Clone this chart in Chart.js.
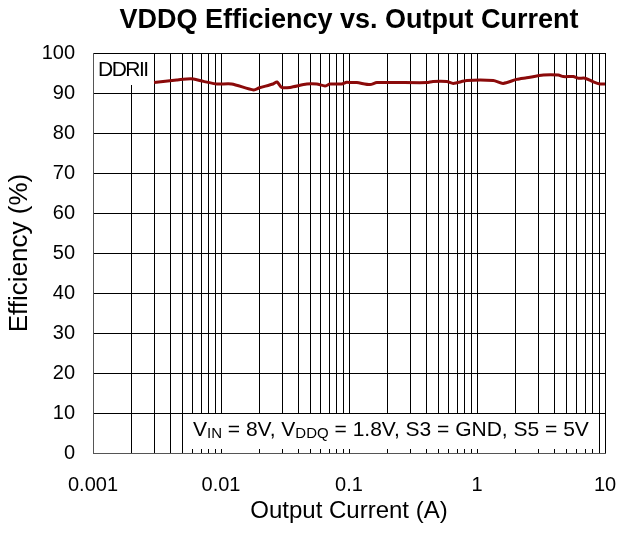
<!DOCTYPE html>
<html><head><meta charset="utf-8">
<script src="https://cdn.jsdelivr.net/npm/chart.js@4.4.1/dist/chart.umd.min.js"></script>
<style>html,body{margin:0;padding:0;background:#fff}#wrap{width:618px;height:534px}</style>
</head><body><div id="wrap"><canvas id="c" width="618" height="534"></canvas></div>
<script>
const chartTitle = 'VDDQ Efficiency vs. Output Current';
const xAxisTitle = 'Output Current (A)';
const yAxisTitle = 'Efficiency (%)';
const seriesLabel = 'DDRII';
const xTickLabels = ['0.001', '0.01', '0.1', '1', '10'];
const yTickLabels = ['0', '10', '20', '30', '40', '50', '60', '70', '80', '90', '100'];
const outputCurrentA = [0.003, 0.0045, 0.0054, 0.0061, 0.0073, 0.0093, 0.0121, 0.018, 0.020, 0.0255, 0.0274, 0.0298, 0.0346, 0.0468, 0.056, 0.0649, 0.0711, 0.0877, 0.0959, 0.104, 0.115, 0.146, 0.165, 0.405, 0.453, 0.58, 0.653, 0.831, 1.34, 1.6, 2.04, 2.44, 3.3, 4.32, 4.72, 5.65, 6.18, 6.98, 8.11, 9.14, 10];
const efficiencyPct = [92.6, 93.25, 93.5, 93.5, 92.9, 92.25, 92.25, 90.75, 91.3, 92.25, 92.75, 91.4, 91.4, 92.25, 92.25, 91.75, 92.25, 92.25, 92.7, 92.6, 92.6, 92.1, 92.6, 92.6, 92.9, 92.9, 92.4, 93.1, 93.1, 92.4, 93.4, 93.8, 94.5, 94.5, 94.1, 94.1, 93.7, 93.7, 92.8, 92.25, 92.25];
// condition note: [text, isSubscript]
const conditionParts = [['V', false], ['IN', true], [' = 8V, V', false], ['DDQ', true], [' = 1.8V, S3 = GND, S5 = 5V', false]];

const FONT = "'Liberation Sans', Arial, Helvetica, sans-serif";
Chart.defaults.color = '#000';
Chart.defaults.font.family = FONT;

const decor = {
  id: 'decor',
  beforeDatasetsDraw(chart) {
    const {ctx, chartArea: a, scales: {x, y}} = chart;
    ctx.save();
    ctx.fillStyle = '#fff';
    // label box top-left
    const bx2 = Math.round(x.getPixelForValue(0.003));
    const by2 = Math.round(y.getPixelForValue(92));
    ctx.fillRect(a.left + 1, a.top + 1, bx2 - a.left - 1, by2 - a.top - 1);
    // condition box bottom
    const cx1 = Math.round(x.getPixelForValue(0.005)) + 1;
    const cx2 = Math.round(x.getPixelForValue(9));
    const cy1 = Math.round(y.getPixelForValue(10)) + 1;
    const cy2 = Math.round(y.getPixelForValue(1));
    ctx.fillRect(cx1, cy1, cx2 - cx1, cy2 - cy1);

    ctx.fillStyle = '#000';
    ctx.textBaseline = 'alphabetic';
    ctx.textAlign = 'left';
    ctx.font = '21px ' + FONT;
    try { ctx.letterSpacing = '-1.5px'; } catch (e) {}
    ctx.fillText(seriesLabel, a.left + 5, a.top + 23);
    try { ctx.letterSpacing = '0px'; } catch (e) {}

    let tx = cx1 + 10;
    const base = cy1 + 22;
    for (const [t, sub] of conditionParts) {
      ctx.font = (sub ? '15px ' : '21px ') + FONT;
      ctx.fillText(t, tx, base + (sub ? 2 : 0));
      tx += ctx.measureText(t).width;
    }
    ctx.restore();
  },
  afterDraw(chart) {
    const {ctx, chartArea: a} = chart;
    ctx.save();
    ctx.fillStyle = '#000';
    ctx.font = 'bold 27px ' + FONT;
    ctx.textAlign = 'center';
    ctx.textBaseline = 'alphabetic';
    ctx.fillText(chartTitle, (a.left + a.right) / 2, 28);
    ctx.restore();
  }
};

const allXTicks = [];
for (let e = -3; e <= 1; e++) {
  for (let s = 1; s <= 9; s++) {
    const v = s * Math.pow(10, e);
    if (v <= 10.0001) allXTicks.push(v);
  }
}

new Chart(document.getElementById('c'), {
  type: 'line',
  data: {
    datasets: [{
      label: seriesLabel,
      data: outputCurrentA.map((v, i) => ({x: v, y: efficiencyPct[i]})),
      borderColor: '#8B0A0A',
      borderWidth: 3,
      pointRadius: 0,
      tension: 0.25,
      fill: false
    }]
  },
  options: {
    responsive: false,
    animation: false,
    devicePixelRatio: 1,
    layout: {padding: {top: 53, right: 13, left: 0, bottom: 0}},
    plugins: {legend: {display: false}, tooltip: {enabled: false}, title: {display: false}},
    scales: {
      x: {
        type: 'logarithmic',
        min: 0.001, max: 10,
        afterBuildTicks(scale) { scale.ticks = allXTicks.map(v => ({value: v})); },
        afterFit(scale) { scale.height = 81; scale.paddingLeft = 0; scale.paddingRight = 0; },
        ticks: {
          autoSkip: false, maxRotation: 0, minRotation: 0, padding: 20,
          font: {size: 20},
          callback(v) {
            const lab = xTickLabels.find(l => Math.abs(parseFloat(l) - v) < v * 1e-6);
            return lab === undefined ? '' : lab;
          }
        },
        grid: {color: '#000', lineWidth: 1, drawTicks: false},
        border: {color: '#555', width: 1},
        title: {display: true, text: xAxisTitle, font: {size: 24}, padding: {top: 0, bottom: 8}}
      },
      y: {
        min: 0, max: 100,
        ticks: {stepSize: 10, padding: 18, font: {size: 20}, callback: (v, i) => yTickLabels[i]},
        afterFit(scale) { scale.width = 93; scale.paddingTop = 0; scale.paddingBottom = 0; },
        grid: {color: '#000', lineWidth: 1, drawTicks: false},
        border: {color: '#555', width: 1},
        title: {display: true, text: yAxisTitle, font: {size: 26}, padding: {top: 4, bottom: 0}}
      }
    }
  },
  plugins: [decor]
});
</script>
</body></html>
